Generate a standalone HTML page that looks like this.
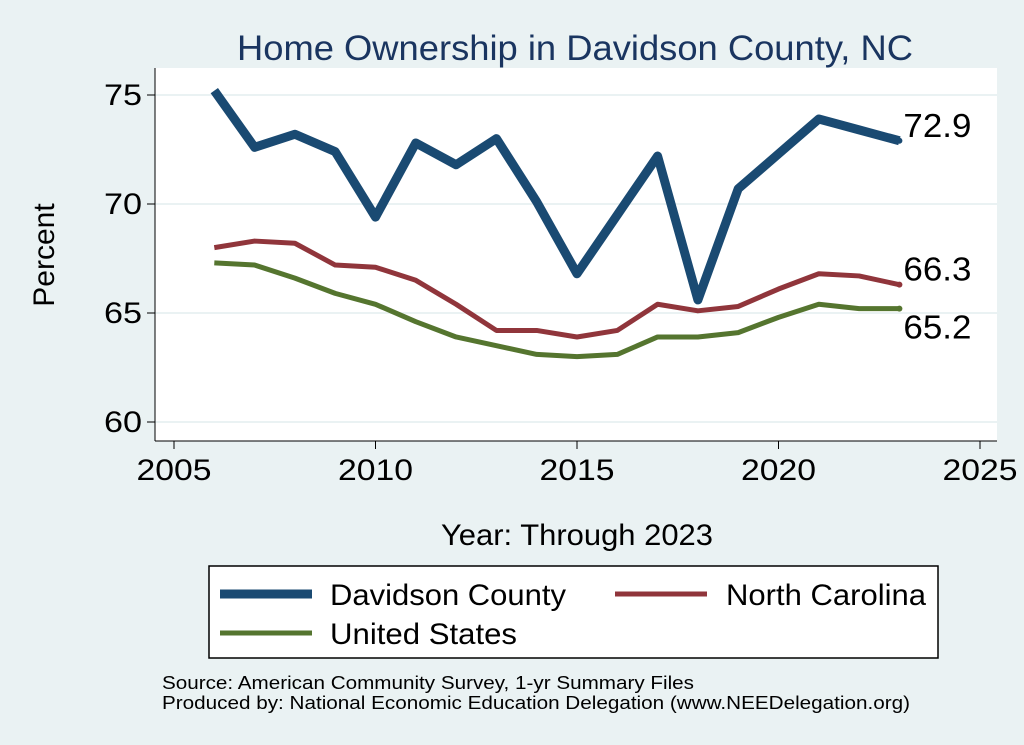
<!DOCTYPE html>
<html><head><meta charset="utf-8"><style>
body{margin:0;background:#eaf2f3;font-family:"Liberation Sans",sans-serif;}
svg{display:block}
</style></head><body>
<svg width="1024" height="745">
<rect x="0" y="0" width="1024" height="745" fill="#eaf2f3"/>
<text x="575" y="60" text-anchor="middle" font-size="35" textLength="676" lengthAdjust="spacingAndGlyphs" fill="#1a3560">Home Ownership in Davidson County, NC</text>
<rect x="155" y="68" width="842" height="373" fill="#fff"/>
<g id="grid"></g><g id="axes"></g><g id="series"></g>
<text x="54" y="255" text-anchor="middle" font-size="30" transform="rotate(-90 54 255)">Percent</text>
<text x="577" y="545" text-anchor="middle" font-size="30" textLength="272" lengthAdjust="spacingAndGlyphs">Year: Through 2023</text>
<g>
<rect x="209" y="566" width="729" height="92" fill="#fff" stroke="#000" stroke-width="1.5"/>
<line x1="220" y1="594" x2="312" y2="594" stroke="#1a4a72" stroke-width="9"/>
<text x="330" y="605" font-size="30" textLength="236" lengthAdjust="spacingAndGlyphs">Davidson County</text>
<line x1="615" y1="594" x2="707" y2="594" stroke="#90353b" stroke-width="5"/>
<text x="726" y="605" font-size="30" textLength="200" lengthAdjust="spacingAndGlyphs">North Carolina</text>
<line x1="220" y1="633" x2="312" y2="633" stroke="#55752f" stroke-width="5"/>
<text x="330" y="644" font-size="30" textLength="187" lengthAdjust="spacingAndGlyphs">United States</text>
</g>
<text x="162" y="689" font-size="18" textLength="532" lengthAdjust="spacingAndGlyphs">Source: American Community Survey, 1-yr Summary Files</text>
<text x="162" y="709" font-size="18" textLength="748" lengthAdjust="spacingAndGlyphs">Produced by: National Economic Education Delegation (www.NEEDelegation.org)</text>
</svg>
<script>
const years=[2006,2007,2008,2009,2010,2011,2012,2013,2014,2015,2016,2017,2018,2019,2020,2021,2022,2023];
const davidson=[75.2,72.6,73.2,72.4,69.4,72.8,71.8,73.0,70.1,66.8,69.5,72.2,65.6,70.7,72.3,73.9,73.4,72.9];
const northCarolina=[68.0,68.3,68.2,67.2,67.1,66.5,65.4,64.2,64.2,63.9,64.2,65.4,65.1,65.3,66.1,66.8,66.7,66.3];
const unitedStates=[67.3,67.2,66.6,65.9,65.4,64.6,63.9,63.5,63.1,63.0,63.1,63.9,63.9,64.1,64.8,65.4,65.2,65.2];
const yTicks=[60,65,70,75];
const xTicks=[2005,2010,2015,2020,2025];
const ns="http://www.w3.org/2000/svg";
const X=v=>174+(v-2005)*(980-174)/20;
const Y=v=>422-(v-60)*(422-95)/15;
function mk(t,a,p){const e=document.createElementNS(ns,t);for(const k in a)e.setAttribute(k,a[k]);p.appendChild(e);return e;}
const grid=document.getElementById('grid'),axes=document.getElementById('axes'),ser=document.getElementById('series');
mk('line',{x1:155,y1:68,x2:155,y2:441,stroke:'#000','stroke-width':1},axes);
mk('line',{x1:155,y1:441,x2:997,y2:441,stroke:'#000','stroke-width':1},axes);
yTicks.forEach(v=>{
const g=mk('line',{x1:155,y1:Y(v),x2:997,y2:Y(v),stroke:'#eaf2f3','stroke-width':2},grid);

mk('line',{x1:147,y1:Y(v),x2:155,y2:Y(v),stroke:'#000'},axes);
const t=mk('text',{x:142,y:Y(v)+10,'text-anchor':'end','font-size':30,textLength:38,lengthAdjust:'spacingAndGlyphs'},axes);t.textContent=v;

});
xTicks.forEach(v=>{
mk('line',{x1:X(v),y1:441,x2:X(v),y2:449,stroke:'#000'},axes);
const t=mk('text',{x:X(v),y:480,'text-anchor':'middle','font-size':30,textLength:75,lengthAdjust:'spacingAndGlyphs'},axes);t.textContent=v;

});
function line(vals,col,w,name){
const p=mk('polyline',{points:vals.map((v,i)=>X(years[i])+','+Y(v)).join(' '),fill:'none',stroke:col,'stroke-width':w,'stroke-linejoin':'round'},ser);

const last=vals.length-1;
mk('circle',{cx:X(years[last]),cy:Y(vals[last]),r:3,fill:col},ser);
}
line(unitedStates,'#55752f',5,'us-line');
line(northCarolina,'#90353b',5,'nc-line');
line(davidson,'#1a4a72',9,'davidson-line');
const L=years.length-1;
[[davidson,-4,'davidson-end-label'],[northCarolina,-4,'nc-end-label'],[unitedStates,30,'us-end-label']].forEach(([a,dy,n])=>{
const t=mk('text',{x:X(years[L])+4,y:Y(a[L])+dy,'font-size':33,textLength:68,lengthAdjust:'spacingAndGlyphs'},ser);t.textContent=a[L].toFixed(1);

});
</script>
</body></html>
